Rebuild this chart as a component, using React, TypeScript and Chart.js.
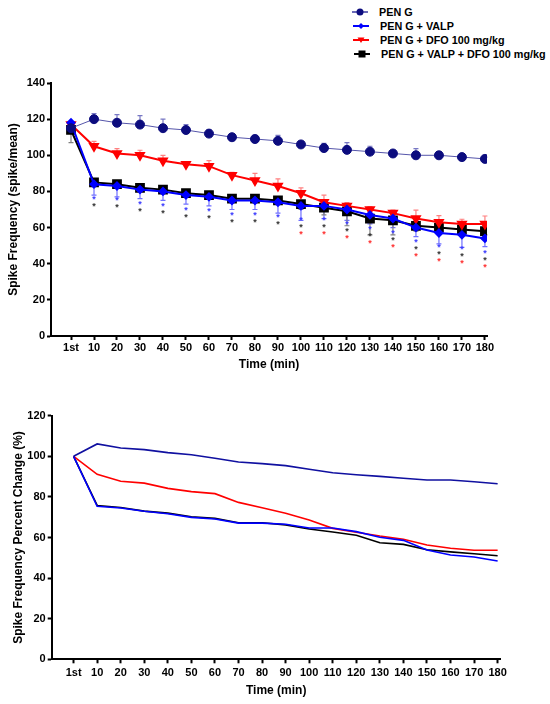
import React, { useEffect, useRef } from 'react';
import { Chart, registerables } from 'chart.js';

Chart.register(...registerables);

// Dados
const timeLabels = ['1st', '10', '20', '30', '40', '50', '60', '70', '80', '90', '100', '110', '120', '130', '140', '150', '160', '170', '180'];

// Frequência (spike/mean) com erro
const penG = [115, 120, 118, 117, 115, 114, 112, 110, 109, 108, 106, 104, 103, 102, 101, 100, 100, 99, 98];
const penGErr = [2, 3, 4.5, 5, 5, 3, 2, 1, 2, 3, 1, 2.6, 4, 3, 1, 3.7, 2, 1, 1];
const penGValp = [118, 84, 83, 81, 80, 78, 77, 75, 75, 74, 72, 72, 70, 67, 65, 60, 57, 56, 54];
const penGValpErr = [1.5, 6, 6, 5, 5, 5, 5, 5, 5, 6, 8, 7, 6, 5, 5, 5, 6, 7, 4.5];
const penGDfo = [117, 105, 101, 100, 97, 95, 94, 89, 86, 83, 79, 74, 72, 70, 68, 65, 63, 62, 62];
const penGDfoErr = [1, 2.7, 2.7, 2.8, 3, 1.5, 3, 1.5, 4, 4, 3, 3.9, 1.8, 1.6, 1.7, 4.7, 3.6, 2.6, 4.4];
const penGValpDfo = [114, 85, 84, 82, 81, 79, 78, 76, 76, 75, 73, 71, 69, 65, 64, 61, 60, 59, 58];
const penGValpDfoErr = [7, 1, 1, 1, 1, 1, 1, 1, 1, 2, 3, 4, 8, 9, 8, 3, 2, 2, 2];

// Asteriscos de significância
const starValp = [false, true, true, true, true, true, true, true, true, true, true, true, true, true, true, true, true, true, true];
const starValpDfo = [false, true, true, true, true, true, true, true, true, true, true, true, true, true, true, true, true, true, true];
const starDfo = [false, false, false, false, false, false, false, false, false, false, true, true, true, true, true, true, true, true, true];

// Variação percentual
const pctPenG = [100, 106.1, 104.1, 103.3, 101.8, 100.8, 99, 97.2, 96.4, 95.4, 93.6, 91.9, 90.9, 90.1, 89.2, 88.3, 88.3, 87.5, 86.5];
const pctValp = [100, 75.4, 74.5, 72.9, 71.7, 69.9, 69.1, 67.1, 67.1, 66.5, 64.7, 64.7, 62.9, 60.1, 58.6, 53.8, 51.4, 50.4, 48.4];
const pctDfo = [100, 91.1, 87.7, 86.8, 84.2, 82.6, 81.6, 77.3, 74.7, 71.9, 68.6, 64.5, 62.6, 60.7, 59.1, 56.3, 54.7, 53.7, 53.7];
const pctValpDfo = [100, 75.8, 74.8, 73.0, 72.0, 70.2, 69.4, 67.3, 67.3, 66.2, 64.2, 62.7, 61.1, 57.4, 56.6, 54.0, 52.9, 52.0, 51.0];

const FONT = "'Liberation Sans', Arial, sans-serif";
const NAVY = '#0c0c7e';
const BLUE = '#0000ff';
const RED = '#ff0000';
const BLACK = '#000000';

const toPoints = (arr: number[]) => arr.map((v, i) => ({ x: i, y: v }));

// Barras de erro (uma direção por série)
const errorBarPlugin = {
  id: 'errorBars',
  beforeDatasetsDraw(chart: any) {
    const ctx = chart.ctx;
    const yScale = chart.scales.y;
    chart.data.datasets.forEach((ds: any, di: number) => {
      if (!ds.errors) return;
      const meta = chart.getDatasetMeta(di);
      ctx.save();
      ctx.strokeStyle = ds.errorColor;
      ctx.lineWidth = 1.2;
      meta.data.forEach((pt: any, i: number) => {
        const end = yScale.getPixelForValue(ds.data[i].y + ds.errorDir * ds.errors[i]);
        ctx.beginPath();
        ctx.moveTo(pt.x, pt.y);
        ctx.lineTo(pt.x, end);
        ctx.moveTo(pt.x - 2.5, end);
        ctx.lineTo(pt.x + 2.5, end);
        ctx.stroke();
      });
      ctx.restore();
    });
  },
};

// Asteriscos abaixo da série PEN G + VALP
const starPlugin = {
  id: 'stars',
  afterDatasetsDraw(chart: any, _args: any, opts: any) {
    if (!opts || !opts.rows) return;
    const ctx = chart.ctx;
    const meta = chart.getDatasetMeta(opts.ref);
    ctx.save();
    ctx.font = `bold 9px ${FONT}`;
    ctx.textAlign = 'center';
    ctx.textBaseline = 'middle';
    opts.rows.forEach((row: any) => {
      ctx.fillStyle = row.color;
      meta.data.forEach((pt: any, i: number) => {
        if (row.flags[i]) ctx.fillText('*', pt.x, pt.y + row.offset);
      });
    });
    ctx.restore();
  },
};

interface ChartBoxProps {
  top: number;
  height: number;
  datasets: any[];
  yMax: number;
  yTitle: string;
  pad: { top: number; right: number };
  yWidth: number;
  xHeight: number;
  xMin: number;
  xMax: number;
  xTickPad: number;
  xTitlePad: number;
  yTitlePad: number;
  stars?: any;
}

function ChartBox(p: ChartBoxProps) {
  const ref = useRef<HTMLCanvasElement | null>(null);

  useEffect(() => {
    if (!ref.current) return;
    const tickFont = { family: FONT, size: 11, weight: 'bold' as const };
    const titleFont = { family: FONT, size: 12, weight: 'bold' as const };
    const grid = { drawOnChartArea: false, drawTicks: true, tickLength: 4, tickWidth: 2, tickColor: '#000' };
    const chart = new Chart(ref.current, {
      type: 'line',
      data: { datasets: p.datasets },
      options: {
        responsive: false,
        animation: false,
        layout: { padding: { top: p.pad.top, right: p.pad.right, left: 0, bottom: 0 } },
        plugins: {
          legend: { display: false },
          tooltip: { enabled: false },
          stars: p.stars,
        } as any,
        scales: {
          x: {
            type: 'linear',
            min: p.xMin,
            max: p.xMax,
            afterBuildTicks: (s: any) => {
              s.ticks = timeLabels.map((_, i) => ({ value: i }));
            },
            afterFit: (s: any) => {
              s.height = p.xHeight;
            },
            ticks: {
              autoSkip: false,
              maxRotation: 0,
              padding: p.xTickPad,
              color: '#000',
              font: tickFont,
              callback: (v: any) => timeLabels[v] ?? '',
            },
            grid,
            border: { color: '#000', width: 2 },
            title: { display: true, text: 'Time (min)', color: '#000', font: titleFont, padding: { top: 0, bottom: p.xTitlePad } },
          },
          y: {
            min: 0,
            max: p.yMax,
            afterFit: (s: any) => {
              s.width = p.yWidth;
            },
            ticks: { stepSize: 20, padding: 2, color: '#000', font: tickFont },
            grid,
            border: { color: '#000', width: 2 },
            title: { display: true, text: p.yTitle, color: '#000', font: titleFont, padding: { top: p.yTitlePad, bottom: 0 } },
          },
        },
      },
      plugins: [errorBarPlugin, starPlugin],
    });
    return () => chart.destroy();
  }, []);

  return (
    <canvas
      ref={ref}
      width={550}
      height={p.height}
      style={{ position: 'absolute', left: 0, top: p.top, width: 550, height: p.height }}
    />
  );
}

const legendItems = [
  { label: 'PEN G', line: '#6a6ab8', fill: NAVY, shape: 'circle', dx: 0 },
  { label: 'PEN G + VALP', line: BLUE, fill: BLUE, shape: 'diamond', dx: 1 },
  { label: 'PEN G + DFO 100 mg/kg', line: RED, fill: RED, shape: 'triangle', dx: 1 },
  { label: 'PEN G + VALP + DFO 100 mg/kg', line: BLACK, fill: BLACK, shape: 'square', dx: 2 },
];

function Marker({ shape, fill }: { shape: string; fill: string }) {
  if (shape === 'circle') return <circle cx={8} cy={5} r={3.5} fill={fill} />;
  if (shape === 'diamond') return <polygon points="8,2 11,5 8,8 5,5" fill={fill} />;
  if (shape === 'triangle') return <polygon points="4.5,2.5 11.5,2.5 8,8" fill={fill} />;
  return <rect x={4.5} y={1.5} width={7} height={7} fill={fill} />;
}

function Legend() {
  return (
    <div style={{ position: 'absolute', left: 352, top: 5, fontFamily: FONT, fontWeight: 'bold', fontSize: 10.8, color: '#000' }}>
      {legendItems.map((it) => (
        <div key={it.label} style={{ display: 'flex', alignItems: 'center', height: 14, marginLeft: it.dx }}>
          <svg width={16} height={10} style={{ marginRight: 11 }}>
            <line x1={0} y1={5} x2={16} y2={5} stroke={it.line} strokeWidth={2} />
            <Marker shape={it.shape} fill={it.fill} />
          </svg>
          <span style={{ whiteSpace: 'nowrap' }}>{it.label}</span>
        </div>
      ))}
    </div>
  );
}

export default function App() {
  const topDatasets = [
    {
      data: toPoints(penG), borderColor: '#5555aa', borderWidth: 1, pointStyle: 'circle', pointRadius: 4.5,
      pointBackgroundColor: NAVY, pointBorderColor: NAVY, errors: penGErr, errorDir: 1, errorColor: '#7878c4',
    },
    {
      data: toPoints(penGValp), borderColor: BLUE, borderWidth: 2, pointStyle: 'rectRot', pointRadius: 3.5,
      pointBackgroundColor: BLUE, pointBorderColor: BLUE, errors: penGValpErr, errorDir: -1, errorColor: '#7070ff',
    },
    {
      data: toPoints(penGDfo), borderColor: RED, borderWidth: 2, pointStyle: 'triangle', pointRotation: 180, pointRadius: 4.5,
      pointBackgroundColor: RED, pointBorderColor: RED, errors: penGDfoErr, errorDir: 1, errorColor: '#ff8080',
    },
    {
      data: toPoints(penGValpDfo), borderColor: BLACK, borderWidth: 2, pointStyle: 'rect', pointRadius: 5.5,
      pointBackgroundColor: BLACK, pointBorderColor: BLACK, errors: penGValpDfoErr, errorDir: -1, errorColor: '#808080',
    },
  ];

  const bottomDatasets = [
    { data: toPoints(pctPenG), borderColor: '#1010a0', borderWidth: 1.6, pointRadius: 0 },
    { data: toPoints(pctValp), borderColor: BLUE, borderWidth: 1.6, pointRadius: 0 },
    { data: toPoints(pctDfo), borderColor: RED, borderWidth: 1.6, pointRadius: 0 },
    { data: toPoints(pctValpDfo), borderColor: BLACK, borderWidth: 1.6, pointRadius: 0 },
  ];

  const stars = {
    ref: 1,
    rows: [
      { flags: starValp, color: '#3a3aff', offset: 15 },
      { flags: starValpDfo, color: '#333333', offset: 22 },
      { flags: starDfo, color: '#ff3030', offset: 29 },
    ],
  };

  return (
    <div style={{ position: 'absolute', left: 0, top: 0, width: 550, height: 704, background: '#fff' }}>
      <Legend />
      <ChartBox
        top={0}
        height={380}
        datasets={topDatasets}
        yMax={140}
        yTitle="Spike Frequency (spike/mean)"
        pad={{ top: 83, right: 63 }}
        yWidth={51}
        xHeight={44}
        xMin={-0.87}
        xMax={18.09}
        xTickPad={1.5}
        xTitlePad={8}
        yTitlePad={6}
        stars={stars}
      />
      <ChartBox
        top={390}
        height={314}
        datasets={bottomDatasets}
        yMax={120}
        yTitle="Spike Frequency Percent Change (%)"
        pad={{ top: 25.7, right: 49.3 }}
        yWidth={51.7}
        xHeight={44.7}
        xMin={-0.93}
        xMax={18.13}
        xTickPad={2.8}
        xTitlePad={6}
        yTitlePad={11}
      />
    </div>
  );
}
